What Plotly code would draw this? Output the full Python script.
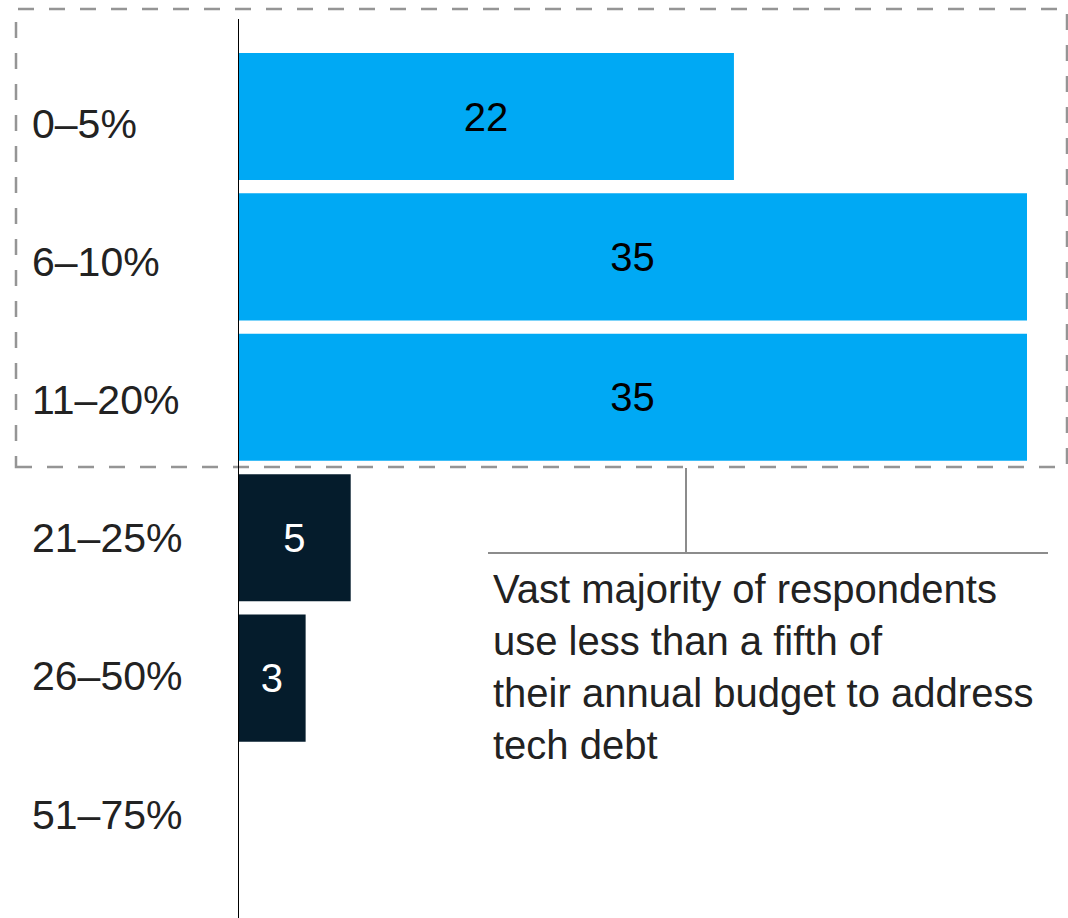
import plotly.graph_objects as go

# Share of annual budget spent on tech debt, % of respondents
categories = ["0–5%", "6–10%", "11–20%", "21–25%", "26–50%", "51–75%"]
respondents = [22, 35, 35, 5, 3, 0]
highlighted = [True, True, True, False, False, False]
note_lines = [
    "Vast majority of respondents",
    "use less than a fifth of",
    "their annual budget to address",
    "tech debt",
]

W, H = 1068, 918
LIGHT = "#00A9F4"
DARK = "#051C2C"
TEXT = "#222222"
FONT = "Liberation Sans, Arial, sans-serif"


def px_x(p):
    return p / W


def px_y(p):
    return 1 - p / H


# horizontal scale: origin at 238 px, value 35 reaching 1027 px
x_origin = 238
unit_px = (1027 - x_origin) / 35
x_max = (W - x_origin) / unit_px

bar_colors = [LIGHT if h else DARK for h in highlighted]
text_colors = ["#000000" if h else "#FFFFFF" for h in highlighted]
bar_text = [str(v) if v else "" for v in respondents]

fig = go.Figure(
    go.Bar(
        x=respondents,
        y=categories,
        orientation="h",
        marker=dict(color=bar_colors, line=dict(width=0)),
        text=bar_text,
        textposition="inside",
        insidetextanchor="middle",
        textangle=0,
        textfont=dict(family=FONT, size=40, color=text_colors),
        hoverinfo="skip",
    )
)

# bar band, and a slightly tighter band for the row labels
plot_top, plot_bottom = 46.3, 888.7
label_top, label_bottom = 54.4, 883.6
label_pitch = (label_bottom - label_top) / len(categories)

fig.update_layout(
    width=W,
    height=H,
    margin=dict(l=0, r=0, t=0, b=0),
    paper_bgcolor="white",
    plot_bgcolor="white",
    showlegend=False,
    bargap=0.095,
    uniformtext=dict(minsize=10, mode="show"),
    xaxis=dict(
        domain=[px_x(x_origin), 1],
        range=[0, x_max],
        showgrid=False,
        zeroline=False,
        showline=False,
        showticklabels=False,
        fixedrange=True,
    ),
    yaxis=dict(
        domain=[px_y(plot_bottom), px_y(plot_top)],
        categoryorder="array",
        categoryarray=categories,
        autorange="reversed",
        showgrid=False,
        zeroline=False,
        showline=False,
        showticklabels=False,
        fixedrange=True,
    ),
)

# category labels, left aligned
for i, cat in enumerate(categories):
    fig.add_annotation(
        x=px_x(30), xref="paper", xanchor="left",
        y=px_y(label_top + (i + 0.5) * label_pitch), yref="paper",
        yanchor="middle",
        text=cat, showarrow=False,
        font=dict(family=FONT, size=41, color=TEXT),
    )

shapes = []
# dashed frame around the highlighted group
shapes.append(dict(
    type="rect", xref="paper", yref="paper",
    x0=px_x(16), x1=px_x(1067), y0=px_y(467), y1=px_y(9),
    line=dict(color="#959595", width=2.5, dash="16px,15px"),
    fillcolor="rgba(0,0,0,0)", layer="above",
))
# vertical axis line
shapes.append(dict(
    type="line", xref="x", yref="paper",
    x0=0, x1=0, y0=0, y1=px_y(19),
    line=dict(color="#000000", width=2), layer="above",
))
# callout connector
shapes.append(dict(
    type="line", xref="paper", yref="paper",
    x0=px_x(686), x1=px_x(686), y0=px_y(468), y1=px_y(553),
    line=dict(color="#8C8C8C", width=2),
))
shapes.append(dict(
    type="line", xref="paper", yref="paper",
    x0=px_x(488), x1=px_x(1048), y0=px_y(553), y1=px_y(553),
    line=dict(color="#8C8C8C", width=2),
))
fig.update_layout(shapes=shapes)

fig.add_annotation(
    x=px_x(491), xref="paper", xanchor="left",
    y=px_y(565), yref="paper", yanchor="top",
    text="<br>".join(note_lines), align="left", showarrow=False,
    font=dict(family=FONT, size=40, color=TEXT),
)

fig.write_html("out.html", config={"displayModeBar": False})
